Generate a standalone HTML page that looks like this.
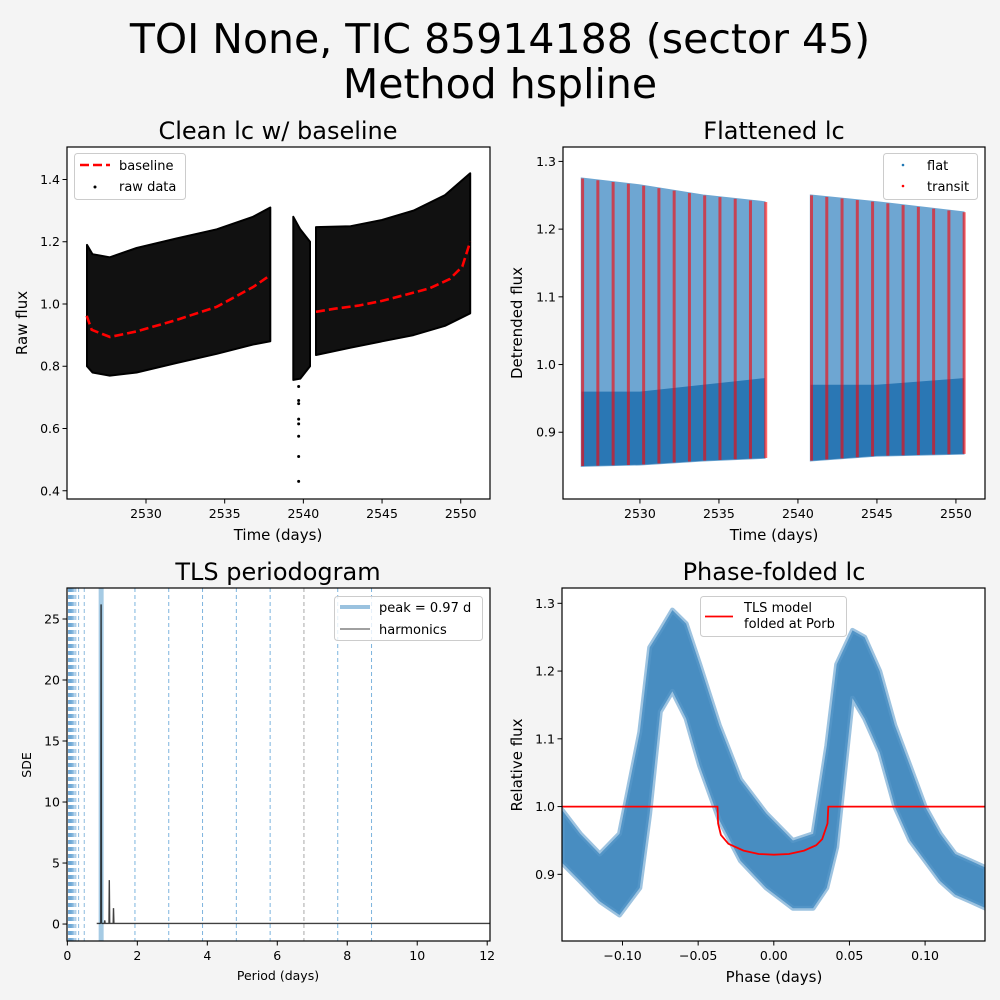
<!DOCTYPE html>
<html><head><meta charset="utf-8"><style>
html,body{margin:0;padding:0;background:#f4f4f4;}
svg{display:block;font-family:"DejaVu Sans","Liberation Sans",sans-serif;}
</style></head><body>
<svg id="fig" width="1000" height="1000" viewBox="0 0 1000 1000" xmlns="http://www.w3.org/2000/svg">
<rect x="0" y="0" width="1000" height="1000" fill="#f4f4f4"/>
<text x="500" y="53" font-size="41" text-anchor="middle" fill="#000">TOI None, TIC 85914188 (sector 45)</text>
<text x="500" y="98" font-size="41" text-anchor="middle" fill="#000">Method hspline</text>
<g id="g1"></g>
<g id="g2"></g>
<g id="g3"></g>
<g id="g4"></g>
</svg>
<script>
// ---------- Panel 1 data ----------
const p1Seg1T = [2526.25,2526.6,2527.7,2529.4,2531.9,2534.5,2536.8,2537.9];
const p1Seg1Hi = [1.19,1.16,1.15,1.18,1.21,1.24,1.28,1.31];
const p1Seg1Lo = [0.80,0.78,0.77,0.78,0.81,0.84,0.87,0.88];
const p1MidT = [2539.36,2539.8,2540.42];
const p1MidHi = [1.28,1.24,1.20];
const p1MidLo = [0.756,0.76,0.80];
const p1Seg3T = [2540.8,2543,2545,2547,2549,2550.6];
const p1Seg3Hi = [1.247,1.25,1.27,1.30,1.35,1.42];
const p1Seg3Lo = [0.836,0.86,0.88,0.90,0.93,0.97];
const p1OutT = [2539.7,2539.7,2539.7,2539.7,2539.7,2539.7,2539.7,2539.7];
const p1OutV = [0.735,0.69,0.68,0.63,0.615,0.575,0.51,0.43];
const baseT1 = [2526.23,2526.55,2527.71,2529.41,2531.95,2534.49,2536.82,2537.88];
const baseV1 = [0.962,0.917,0.894,0.912,0.949,0.991,1.055,1.092];
const baseT3 = [2540.8,2542,2543.5,2545,2546.5,2548,2549.3,2550.1,2550.6];
const baseV3 = [0.975,0.985,0.995,1.01,1.03,1.05,1.08,1.12,1.2];
const p1XTicks = [2530,2535,2540,2545,2550];
const p1YTicks = [0.4,0.6,0.8,1.0,1.2,1.4];
// ---------- Panel 2 data ----------
const p2Seg1T = [2526.3,2530,2534,2537.9];
const p2Seg1Hi = [1.275,1.265,1.25,1.24];
const p2Seg1Lo = [0.85,0.852,0.858,0.862];
const p2Seg1Mid = [0.96,0.96,0.97,0.98];
const p2Seg2T = [2540.8,2545,2550.5];
const p2Seg2Hi = [1.25,1.24,1.225];
const p2Seg2Lo = [0.858,0.865,0.868];
const p2Seg2Mid = [0.97,0.97,0.98];
const transitT0 = 2526.37;
const transitP = 0.966;
const transitN = [0,1,2,3,4,5,6,7,8,9,10,11,12,15,16,17,18,19,20,21,22,23,24,25];
const p2XTicks = [2530,2535,2540,2545,2550];
const p2YTicks = [0.9,1.0,1.1,1.2,1.3];
// ---------- Panel 3 data ----------
const peakPeriod = 0.966;
const periodP = [0.84,0.94,0.955,0.966,0.977,0.99,1.06,1.07,1.08,1.19,1.2,1.21,1.31,1.32,1.33,12.08];
const periodSDE = [0.05,0.05,0.1,26.2,0.1,0.05,0.05,0.3,0.05,0.05,3.6,0.05,0.05,1.3,0.05,0.05];
const harmMult = [2,3,4,5,6,7,8,9];
const harmDiv = [2,3,4,5,6,7,8,9,10,11,12,13,14,16,18,20,24,30];
const p3XTicks = [0,2,4,6,8,10,12];
const p3YTicks = [0,5,10,15,20,25];
// ---------- Panel 4 data ----------
const phX = [-0.14,-0.128,-0.115,-0.102,-0.0886,-0.082,-0.075,-0.067,-0.058,-0.049,-0.036,-0.022,-0.005,0.0126,0.026,0.035,0.0416,0.052,0.06,0.07,0.08,0.09,0.10,0.11,0.12,0.13,0.14];
const phHi = [0.995,0.96,0.93,0.96,1.11,1.235,1.26,1.29,1.27,1.21,1.12,1.04,0.99,0.95,0.96,1.09,1.21,1.26,1.25,1.2,1.12,1.06,1.0,0.96,0.93,0.92,0.91];
const phLo = [0.917,0.89,0.86,0.84,0.88,0.99,1.14,1.17,1.13,1.06,0.98,0.92,0.88,0.85,0.85,0.88,0.94,1.16,1.13,1.08,1.0,0.95,0.92,0.89,0.87,0.86,0.85];
const modelX = [-0.14,-0.0372,-0.0368,-0.035,-0.03,-0.02,-0.01,0.0,0.01,0.02,0.028,0.032,0.0355,0.036,0.14];
const modelY = [1.0,1.0,0.975,0.958,0.945,0.935,0.93,0.929,0.93,0.935,0.943,0.952,0.975,1.0,1.0];
const p4XTicks = [-0.10,-0.05,0.00,0.05,0.10];
const p4XLabels = ["\u22120.10","\u22120.05","0.00","0.05","0.10"];
const p4YTicks = [0.9,1.0,1.1,1.2,1.3];

const NS = "http://www.w3.org/2000/svg";
const TICK_FS = 12.5, LBL_FS = 15, TTL_FS = 24, LEG_FS = 13;
function mk(parent, tag, attrs, txt){
  const el = document.createElementNS(NS, tag);
  for (const k in attrs) el.setAttribute(k, attrs[k]);
  if (txt !== undefined) el.textContent = txt;
  parent.appendChild(el);
  return el;
}
function lin(d0,d1,r0,r1){ return v => r0 + (v-d0)*(r1-r0)/(d1-d0); }

function axesFrame(g, L, T, R, B, name){
  const el = mk(g,'rect',{x:L,y:T,width:R-L,height:B-T,fill:'#fff',stroke:'none'});
  
  
  return el;
}
function spines(g, L, T, R, B){
  const el = mk(g,'rect',{x:L,y:T,width:R-L,height:B-T,fill:'none',stroke:'#000','stroke-width':1.2});
  
  
}
function xTicks(g, ticks, labels, sx, B, fs){
  ticks.forEach((t,i)=>{
    const x = sx(t);
    const tk = mk(g,'line',{x1:x,y1:B,x2:x,y2:B+4.5,stroke:'#000','stroke-width':1});
    
    
    const lb = mk(g,'text',{x:x,y:B+19,'font-size':fs,'text-anchor':'middle',fill:'#000'}, labels[i]);
    
    
  });
}
function yTicks(g, ticks, labels, sy, L, fs){
  ticks.forEach((t,i)=>{
    const y = sy(t);
    const tk = mk(g,'line',{x1:L-4.5,y1:y,x2:L,y2:y,stroke:'#000','stroke-width':1});
    
    
    const lb = mk(g,'text',{x:L-7,y:y+4.5,'font-size':fs,'text-anchor':'end',fill:'#000'}, labels[i]);
    
    
  });
}
function bandPath(ts, hi, lo, sx, sy){
  let d = '';
  ts.forEach((t,i)=>{ d += (i?'L':'M') + sx(t).toFixed(1) + ',' + sy(hi[i]).toFixed(1); });
  for (let i=ts.length-1;i>=0;i--) d += 'L' + sx(ts[i]).toFixed(1) + ',' + sy(lo[i]).toFixed(1);
  return d + 'Z';
}
function linePath(xs, ys, sx, sy){
  let d = '';
  xs.forEach((x,i)=>{ d += (i?'L':'M') + sx(x).toFixed(1) + ',' + sy(ys[i]).toFixed(1); });
  return d;
}
function interp(xs, ys, x){
  if (x<=xs[0]) return ys[0];
  for (let i=1;i<xs.length;i++){ if (x<=xs[i]) return ys[i-1]+(ys[i]-ys[i-1])*(x-xs[i-1])/(xs[i]-xs[i-1]); }
  return ys[ys.length-1];
}

// ================= Panel 1 =================
(function(){
  const g = document.getElementById('g1');
  const L=67,T=147,R=490,B=499;
  const sx = lin(2524.98,2551.86,L,R), sy = lin(0.3735,1.5044,B,T);
  axesFrame(g,L,T,R,B,'clean-lc-axes');
  const t = mk(g,'text',{x:278,y:139,'font-size':TTL_FS,'text-anchor':'middle'},'Clean lc w/ baseline');
  
  
  [[p1Seg1T,p1Seg1Hi,p1Seg1Lo],[p1MidT,p1MidHi,p1MidLo],[p1Seg3T,p1Seg3Hi,p1Seg3Lo]].forEach(s=>{
    const p = mk(g,'path',{d:bandPath(s[0],s[1],s[2],sx,sy),fill:'#111',stroke:'#000','stroke-width':2,'stroke-linejoin':'round'});
    
    
  });
  p1OutT.forEach((tt,i)=>{
    const c = mk(g,'circle',{cx:sx(tt),cy:sy(p1OutV[i]),r:1.5,fill:'#000'});
    
    
  });
  [[baseT1,baseV1],[baseT3,baseV3]].forEach(s=>{
    const p = mk(g,'path',{d:linePath(s[0],s[1],sx,sy),fill:'none',stroke:'#ff0000','stroke-width':2.6,'stroke-dasharray':'9,4'});
    
    
  });
  spines(g,L,T,R,B);
  xTicks(g,p1XTicks,p1XTicks.map(String),sx,B,TICK_FS);
  yTicks(g,p1YTicks,p1YTicks.map(v=>v.toFixed(1)),sy,L,TICK_FS);
  const xl = mk(g,'text',{x:278,y:540,'font-size':LBL_FS,'text-anchor':'middle'},'Time (days)');
  
  
  const yl = mk(g,'text',{x:0,y:0,'font-size':LBL_FS,'text-anchor':'middle',transform:'translate(27,323) rotate(-90)'},'Raw flux');
  
  
  const lg = mk(g,'g',{});
  
  
  mk(lg,'rect',{x:74.5,y:153.5,width:111,height:46,rx:3,fill:'#fff','fill-opacity':0.8,stroke:'#ccc'});
  const l1 = mk(lg,'line',{x1:80,y1:165,x2:110,y2:165,stroke:'#ff0000','stroke-width':2.6,'stroke-dasharray':'9,4'});
  
  
  const lt1 = mk(lg,'text',{x:119,y:170,'font-size':LEG_FS},'baseline');
  
  
  const l2 = mk(lg,'circle',{cx:95,cy:187,r:1.5,fill:'#000'});
  
  
  const lt2 = mk(lg,'text',{x:119,y:191,'font-size':LEG_FS},'raw data');
  
  
})();

// ================= Panel 2 =================
(function(){
  const g = document.getElementById('g2');
  const L=563,T=147,R=985,B=499;
  const sx = lin(2525.13,2551.84,L,R), sy = lin(0.8014,1.3213,B,T);
  axesFrame(g,L,T,R,B,'flattened-lc-axes');
  const t = mk(g,'text',{x:774,y:139,'font-size':TTL_FS,'text-anchor':'middle'},'Flattened lc');
  
  
  [[p2Seg1T,p2Seg1Hi,p2Seg1Lo,p2Seg1Mid],[p2Seg2T,p2Seg2Hi,p2Seg2Lo,p2Seg2Mid]].forEach(s=>{
    const p = mk(g,'path',{d:bandPath(s[0],s[1],s[2],sx,sy),fill:'#6ea6d2',stroke:'#6ea6d2','stroke-width':1.5});
    
    
    const q = mk(g,'path',{d:bandPath(s[0],s[3],s[2],sx,sy),fill:'#2a77b4'});
    
    
  });
  transitN.forEach(n=>{
    const tt = transitT0 + n*transitP;
    const inS1 = tt <= p2Seg1T[p2Seg1T.length-1]+0.1;
    const hi = inS1 ? interp(p2Seg1T,p2Seg1Hi,tt) : interp(p2Seg2T,p2Seg2Hi,tt);
    const lo = inS1 ? interp(p2Seg1T,p2Seg1Lo,tt) : interp(p2Seg2T,p2Seg2Lo,tt);
    const r = mk(g,'rect',{x:sx(tt)-1.5,y:sy(hi),width:3,height:sy(lo)-sy(hi),fill:'#ff0000','fill-opacity':0.6});
    
    
  });
  spines(g,L,T,R,B);
  xTicks(g,p2XTicks,p2XTicks.map(String),sx,B,TICK_FS);
  yTicks(g,p2YTicks,p2YTicks.map(v=>v.toFixed(1)),sy,L,TICK_FS);
  const xl = mk(g,'text',{x:774,y:540,'font-size':LBL_FS,'text-anchor':'middle'},'Time (days)');
  
  
  const yl = mk(g,'text',{x:0,y:0,'font-size':LBL_FS,'text-anchor':'middle',transform:'translate(522,323) rotate(-90)'},'Detrended flux');
  
  
  const lg = mk(g,'g',{});
  
  
  mk(lg,'rect',{x:883.5,y:153.5,width:94,height:46,rx:3,fill:'#fff','fill-opacity':0.8,stroke:'#ccc'});
  const d1 = mk(lg,'circle',{cx:903,cy:165,r:1.3,fill:'#1f77b4'});
  
  
  const t1 = mk(lg,'text',{x:927,y:170,'font-size':LEG_FS},'flat');
  
  
  const d2 = mk(lg,'circle',{cx:903,cy:186,r:1.3,fill:'#ff0000'});
  
  
  const t2 = mk(lg,'text',{x:927,y:191,'font-size':LEG_FS},'transit');
  
  
})();

// ================= Panel 3 =================
(function(){
  const g = document.getElementById('g3');
  const L=67,T=588,R=490,B=941;
  const sx = lin(-0.01,12.08,L,R), sy = lin(-1.39,27.54,B,T);
  axesFrame(g,L,T,R,B,'periodogram-axes');
  const t = mk(g,'text',{x:278,y:580,'font-size':TTL_FS,'text-anchor':'middle'},'TLS periodogram');
  
  
  const pk = mk(g,'rect',{x:sx(peakPeriod)-2.5,y:T,width:5,height:B-T,fill:'#a6cbe4'});
  
  
  harmMult.forEach(n=>{
    const x = sx(n*peakPeriod);
    const l = mk(g,'line',{x1:x,y1:T,x2:x,y2:B,stroke:n===7?'#a8a8a8':'#7db4de','stroke-width':1,'stroke-dasharray':'4,3'});
    
    
  });
  harmDiv.forEach(n=>{
    const x = sx(peakPeriod/n);
    const l = mk(g,'line',{x1:x,y1:T,x2:x,y2:B,stroke:'#6fa9d6','stroke-width':1,'stroke-dasharray':'4,3','stroke-opacity':0.8});
    
    
  });
  const pl = mk(g,'path',{d:linePath(periodP,periodSDE,sx,sy),fill:'none',stroke:'#000','stroke-width':1.4,'stroke-opacity':0.75});
  
  
  spines(g,L,T,R,B);
  xTicks(g,p3XTicks,p3XTicks.map(String),sx,B,TICK_FS);
  yTicks(g,p3YTicks,p3YTicks.map(String),sy,L,TICK_FS);
  const xl = mk(g,'text',{x:278,y:980,'font-size':12.5,'text-anchor':'middle'},'Period (days)');
  
  
  const yl = mk(g,'text',{x:0,y:0,'font-size':12.5,'text-anchor':'middle',transform:'translate(31,765) rotate(-90)'},'SDE');
  
  
  const lg = mk(g,'g',{});
  
  
  mk(lg,'rect',{x:334.5,y:596.5,width:148,height:44,rx:3,fill:'#fff','fill-opacity':0.8,stroke:'#ccc'});
  const s1 = mk(lg,'line',{x1:340,y1:607,x2:370,y2:607,stroke:'#9ac2df','stroke-width':4});
  
  
  const t1 = mk(lg,'text',{x:379,y:612,'font-size':LEG_FS},'peak = 0.97 d');
  
  
  const s2 = mk(lg,'line',{x1:340,y1:629,x2:370,y2:629,stroke:'#000','stroke-width':0.8});
  
  
  const t2 = mk(lg,'text',{x:379,y:634,'font-size':LEG_FS},'harmonics');
  
  
})();

// ================= Panel 4 =================
(function(){
  const g = document.getElementById('g4');
  const L=562,T=588,R=985,B=941;
  const sx = lin(-0.14,0.1396,L,R), sy = lin(0.8016,1.3226,B,T);
  axesFrame(g,L,T,R,B,'phase-folded-axes');
  const t = mk(g,'text',{x:774,y:580,'font-size':TTL_FS,'text-anchor':'middle'},'Phase-folded lc');
  
  
  const cp = mk(g,'clipPath',{id:'clip4'});
  mk(cp,'rect',{x:L,y:T,width:R-L,height:B-T});
  const band = mk(g,'path',{d:bandPath(phX,phHi,phLo,sx,sy),fill:'#2f7db8','fill-opacity':0.88,stroke:'#5b9bcc','stroke-width':5,'stroke-linejoin':'round','stroke-opacity':0.6,'clip-path':'url(#clip4)'});
  
  
  const m = mk(g,'path',{d:linePath(modelX,modelY,sx,sy),fill:'none',stroke:'#ff0000','stroke-width':1.8,'clip-path':'url(#clip4)'});
  
  
  spines(g,L,T,R,B);
  xTicks(g,p4XTicks,p4XLabels,sx,B,TICK_FS);
  yTicks(g,p4YTicks,p4YTicks.map(v=>v.toFixed(1)),sy,L,TICK_FS);
  const xl = mk(g,'text',{x:774,y:982,'font-size':LBL_FS,'text-anchor':'middle'},'Phase (days)');
  
  
  const yl = mk(g,'text',{x:0,y:0,'font-size':LBL_FS,'text-anchor':'middle',transform:'translate(522,765) rotate(-90)'},'Relative flux');
  
  
  const lg = mk(g,'g',{});
  
  
  mk(lg,'rect',{x:700.5,y:596.5,width:146,height:40,rx:3,fill:'#fff','fill-opacity':0.8,stroke:'#ccc'});
  const s1 = mk(lg,'line',{x1:705,y1:616.5,x2:733,y2:616.5,stroke:'#ff0000','stroke-width':1.8});
  
  
  const t1 = mk(lg,'text',{x:744,y:612,'font-size':LEG_FS},'TLS model');
  
  
  const t2 = mk(lg,'text',{x:744,y:628,'font-size':LEG_FS},'folded at Porb');
  
  
})();
</script>
</body></html>
